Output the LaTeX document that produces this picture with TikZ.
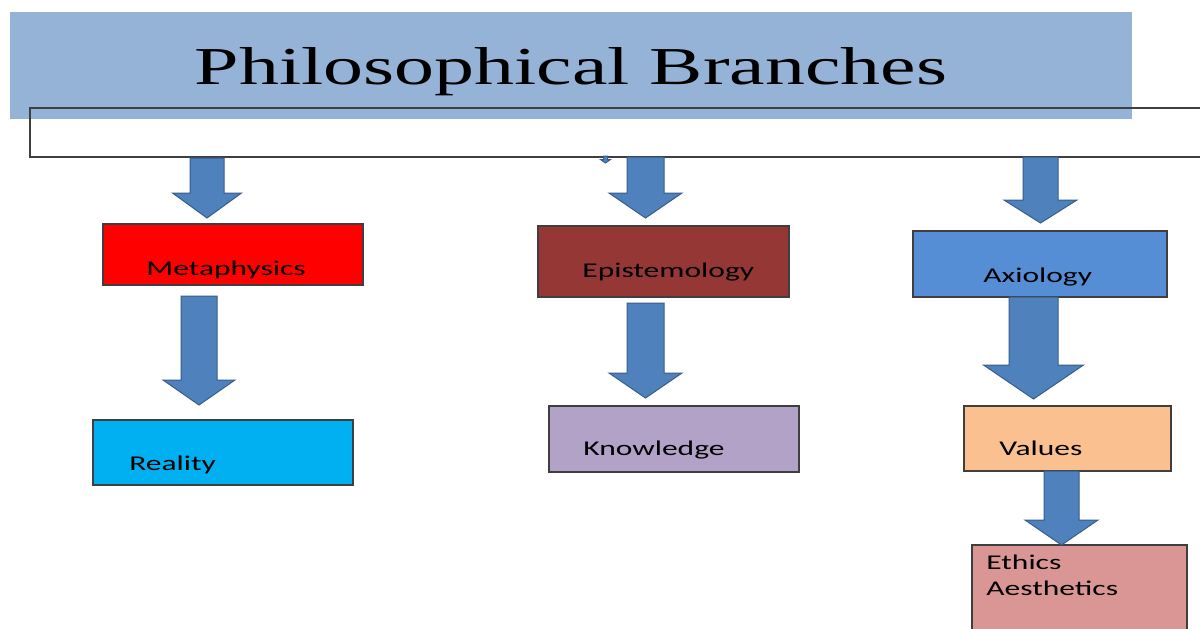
\documentclass[tikz,border=0pt]{standalone}
\usepackage{fontspec}
\setmainfont{Carlito}
\newfontfamily\titlefont{Liberation Serif}
\usetikzlibrary{calc}
\definecolor{bandc}{HTML}{95B3D7}
\definecolor{arrfill}{HTML}{4F81BD}
\definecolor{arrline}{HTML}{385D8A}
\definecolor{metac}{HTML}{FF0000}
\definecolor{realc}{HTML}{00B0F0}
\definecolor{episc}{HTML}{953735}
\definecolor{knowc}{HTML}{B3A2C7}
\definecolor{axioc}{HTML}{558ED5}
\definecolor{valuc}{HTML}{FAC090}
\definecolor{ethic}{HTML}{D99694}
\definecolor{edgec}{HTML}{3F3F3F}
\tikzset{
  box/.style={draw=edgec, line width=0.6pt, rectangle, inner sep=0pt},
  lab/.style={anchor=base west, inner sep=0pt, font=\fontsize{10.5}{12}\selectfont},
  barrow/.style={fill=arrfill, draw=arrline, line width=0.5pt, line join=miter},
}
\newcommand\blockarr[5]{%
  \draw[barrow] let \p1=(#1), \p2=(#2) in
    (\x1-#3,\y1) -- (\x1+#3,\y1) -- (\x1+#3,\y2+#5) -- (\x1+#4,\y2+#5) --
    (\x2,\y2) -- (\x1-#4,\y2+#5) -- (\x1-#3,\y2+#5) -- cycle;}
\newcommand\wide[1]{\scalebox{1.5}[1]{#1}}
\begin{document}
\begin{tikzpicture}[x=0.5pt,y=-0.5pt]
\useasboundingbox (0,0) rectangle (1200,628);
\clip (0,0) rectangle (1200,628);
\fill[white] (0,0) rectangle (1200,628);
% title band
\node[fill=bandc, rectangle, inner sep=0pt, minimum width=561pt, minimum height=53.5pt] (band) at (571,65.5) {};
\node[anchor=base, inner sep=0pt] (title) at (571,84) {\resizebox{376pt}{18.5pt}{\titlefont Philosophical Branches}};
% outline rectangle
\node[draw=edgec, line width=0.7pt, rectangle, inner sep=0pt, minimum width=590pt, minimum height=24.5pt] (frame) at (620,132.5) {};
% boxes
\node[box, fill=metac, minimum width=130pt, minimum height=30.5pt] (meta) at (233,254.5) {};
\node[box, fill=realc, minimum width=130pt, minimum height=32.5pt] (real) at (223,452.5) {};
\node[box, fill=episc, minimum width=125.5pt, minimum height=35.5pt] (epis) at (663.5,261.5) {};
\node[box, fill=knowc, minimum width=125pt, minimum height=33pt] (know) at (674,439) {};
\node[box, fill=axioc, minimum width=127pt, minimum height=33pt] (axio) at (1040,264) {};
\node[box, fill=valuc, minimum width=103.5pt, minimum height=32.5pt] (valu) at (1067.5,438.5) {};
\node[box, fill=ethic, minimum width=107.5pt, minimum height=50pt] (ethi) at (1079.5,595) {};
% labels
\node[lab] (tmeta) at (146,275) {\wide{Metaphysics}};
\node[lab] (treal) at (129,470) {\wide{Reality}};
\node[lab] (tepis) at (582,277) {\wide{Epistemology}};
\node[lab] (tknow) at (583,455) {\wide{Knowledge}};
\node[lab] (taxio) at (983,282) {\wide{Axiology}};
\node[lab] (tvalu) at (999,455) {\wide{Values}};
\node[lab] (teth1) at (986,569) {\wide{Ethics}};
\node[lab] (teth2) at (986,595) {\wide{Aesthetics}};
% arrow end points
\coordinate (a1s) at (207,158);   \coordinate (a1e) at (207,218);
\coordinate (a2s) at (199,296);   \coordinate (a2e) at (199,405);
\coordinate (a3s) at (645.5,157); \coordinate (a3e) at (645.5,218);
\coordinate (a4s) at (645.5,303); \coordinate (a4e) at (645.5,398);
\coordinate (a5s) at (1040.5,157);\coordinate (a5e) at (1040.5,223);
\coordinate (a6s) at (1033.5,297);\coordinate (a6e) at (1033.5,399);
\coordinate (a7s) at (1061.5,471);\coordinate (a7e) at (1061.5,545);
\coordinate (a0s) at (605.5,156); \coordinate (a0e) at (605.5,163);
\blockarr{a1s}{a1e}{8.5pt}{17.25pt}{12.5pt}
\blockarr{a2s}{a2e}{9pt}{18pt}{12.5pt}
\blockarr{a3s}{a3e}{9.25pt}{18.25pt}{12.5pt}
\blockarr{a4s}{a4e}{9.25pt}{18.25pt}{12.5pt}
\blockarr{a5s}{a5e}{8.75pt}{18.25pt}{11.5pt}
\blockarr{a6s}{a6e}{12.25pt}{25pt}{17pt}
\blockarr{a7s}{a7e}{8.75pt}{18.25pt}{12.5pt}
\blockarr{a0s}{a0e}{1pt}{2.5pt}{1.75pt}
\end{tikzpicture}
\end{document}
